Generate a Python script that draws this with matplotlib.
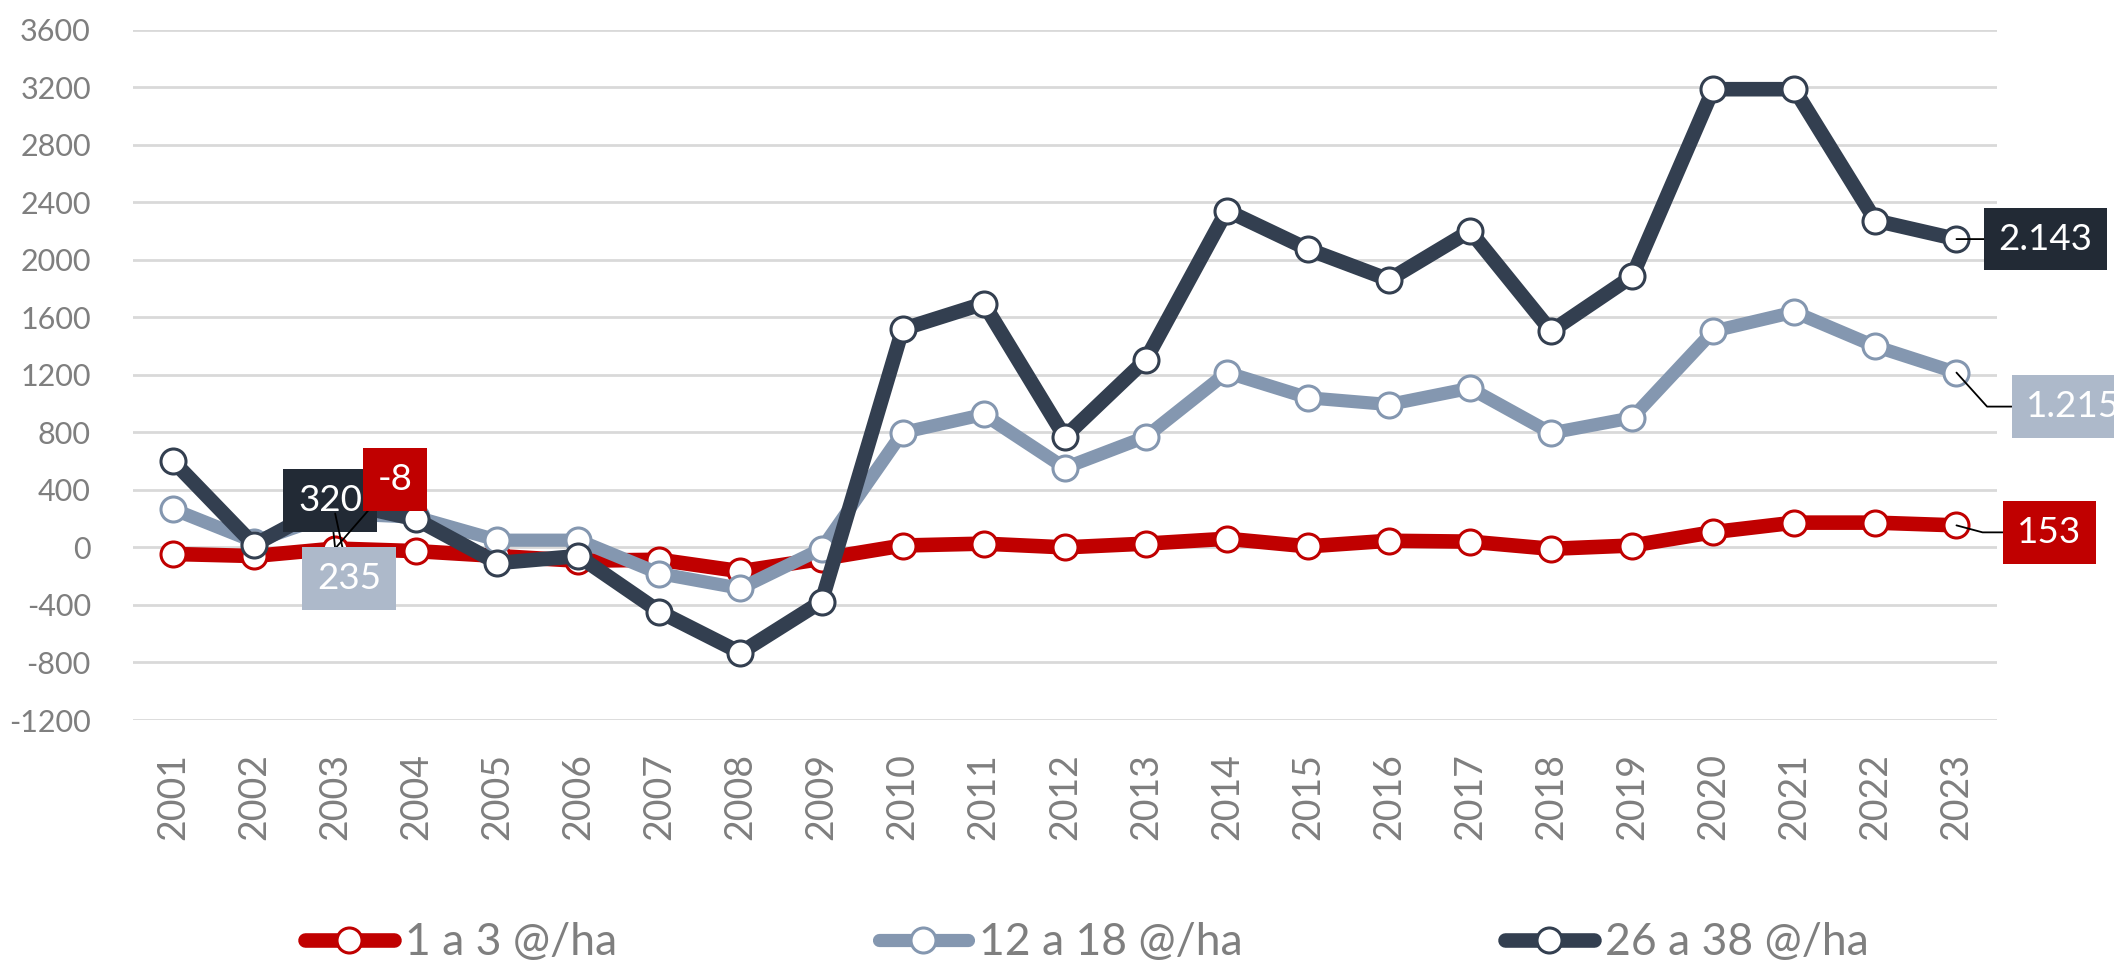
import matplotlib
matplotlib.use('Agg')
import matplotlib.pyplot as plt

# ---------------- data ----------------
years = ['2001', '2002', '2003', '2004', '2005', '2006', '2007', '2008', '2009', '2010', '2011', '2012',
         '2013', '2014', '2015', '2016', '2017', '2018', '2019', '2020', '2021', '2022', '2023']
red_1a3 = [-46, -60, -8, -26, -60, -93, -86, -166, -80, 13, 26, 0, 26, 60, 7, 46, 40, -10, 13, 106, 172, 172, 153]
light_12a18 = [265, 40, 235, 210, 50, 50, -182, -285, -10, 798, 924, 553, 768, 1215, 1040, 993, 1106, 795, 901,
               1503, 1636, 1397, 1215]
dark_26a38 = [600, 17, 320, 195, -109, -60, -447, -732, -377, 1517, 1695, 768, 1305, 2341, 2073, 1861, 2199, 1503,
              1884, 3185, 3185, 2272, 2143]
series_names = ['1 a 3 @/ha', '12 a 18 @/ha', '26 a 38 @/ha']
y_ticks = [-1200, -800, -400, 0, 400, 800, 1200, 1600, 2000, 2400, 2800, 3200, 3600]

# ---------------- style ----------------
plt.rcParams['font.family'] = ['Lato', 'DejaVu Sans']
RED = '#C00000'
LIGHT = '#8497B0'
DARK = '#333F50'
LIGHT_BOX = '#ADB9CA'
DARK_BOX = '#222A35'
GRAY_TXT = '#7F7F7F'

fig = plt.figure(figsize=(21.14, 9.66), dpi=100)
ax = fig.add_axes([132.5 / 2114, 1 - 720 / 966, (1997 - 132.5) / 2114, (720 - 29.5) / 966])

x = list(range(len(years)))
specs = [(red_1a3, RED, 10.5), (light_12a18, LIGHT, 9.5), (dark_26a38, DARK, 10.5)]
for (vals, col, lw), name in zip(specs, series_names):
    ax.plot(x, vals, color=col, lw=lw, marker='o', markersize=18, markerfacecolor='white',
            markeredgecolor=col, markeredgewidth=2.2, solid_joinstyle='round', solid_capstyle='round',
            label=name, zorder=3)

ax.set_xlim(-0.5, len(years) - 0.5)
ax.set_ylim(y_ticks[0], y_ticks[-1])
ax.set_yticks(y_ticks)
ax.set_yticklabels([str(v) for v in y_ticks])
ax.set_xticks(x)
ax.set_xticklabels(years, rotation=90, va='top')
ax.tick_params(axis='y', length=0, pad=30, labelsize=22, labelcolor=GRAY_TXT)
ax.tick_params(axis='x', length=0, pad=24, labelsize=27, labelcolor=GRAY_TXT)
ax.grid(axis='y', color='#D9D9D9', lw=2.0, zorder=0)
ax.set_axisbelow(True)
for s in ax.spines.values():
    s.set_visible(False)


def fmt(v):
    return f"{v:,}".replace(',', '.')


def label(idx, vals, face, offset, xy_val=None, conn='arc3'):
    target = (idx, vals[idx] if xy_val is None else xy_val)
    ax.annotate(fmt(vals[idx]), xy=target, xytext=offset, textcoords='offset pixels',
                ha='center', va='center', fontsize=26.5, color='white', zorder=6,
                bbox=dict(boxstyle='square,pad=0.4', fc=face, ec='none'),
                arrowprops=dict(arrowstyle='-', color='black', lw=1.3, shrinkA=0, shrinkB=0,
                                connectionstyle=conn),
                annotation_clip=False)


i03 = years.index('2003')
i23 = len(years) - 1
label(i03, dark_26a38, DARK_BOX, (-5, 48), xy_val=red_1a3[i03])
label(i03, red_1a3, RED, (60, 69))
label(i03, light_12a18, LIGHT_BOX, (14, -65))
label(i23, dark_26a38, DARK_BOX, (89, 0))
label(i23, light_12a18, LIGHT_BOX, (117, -34), conn='angle,angleA=0,angleB=-48,rad=0')
label(i23, red_1a3, RED, (93, -7), conn='angle,angleA=0,angleB=-15,rad=0')

fig.legend(loc='center', bbox_to_anchor=(0.514, 0.024), ncol=3, frameon=False, fontsize=32,
           labelcolor=GRAY_TXT, handlelength=2.0, handletextpad=0.25, columnspacing=5.9,
           numpoints=1, borderpad=0)

fig.savefig('out.png', dpi=100)
